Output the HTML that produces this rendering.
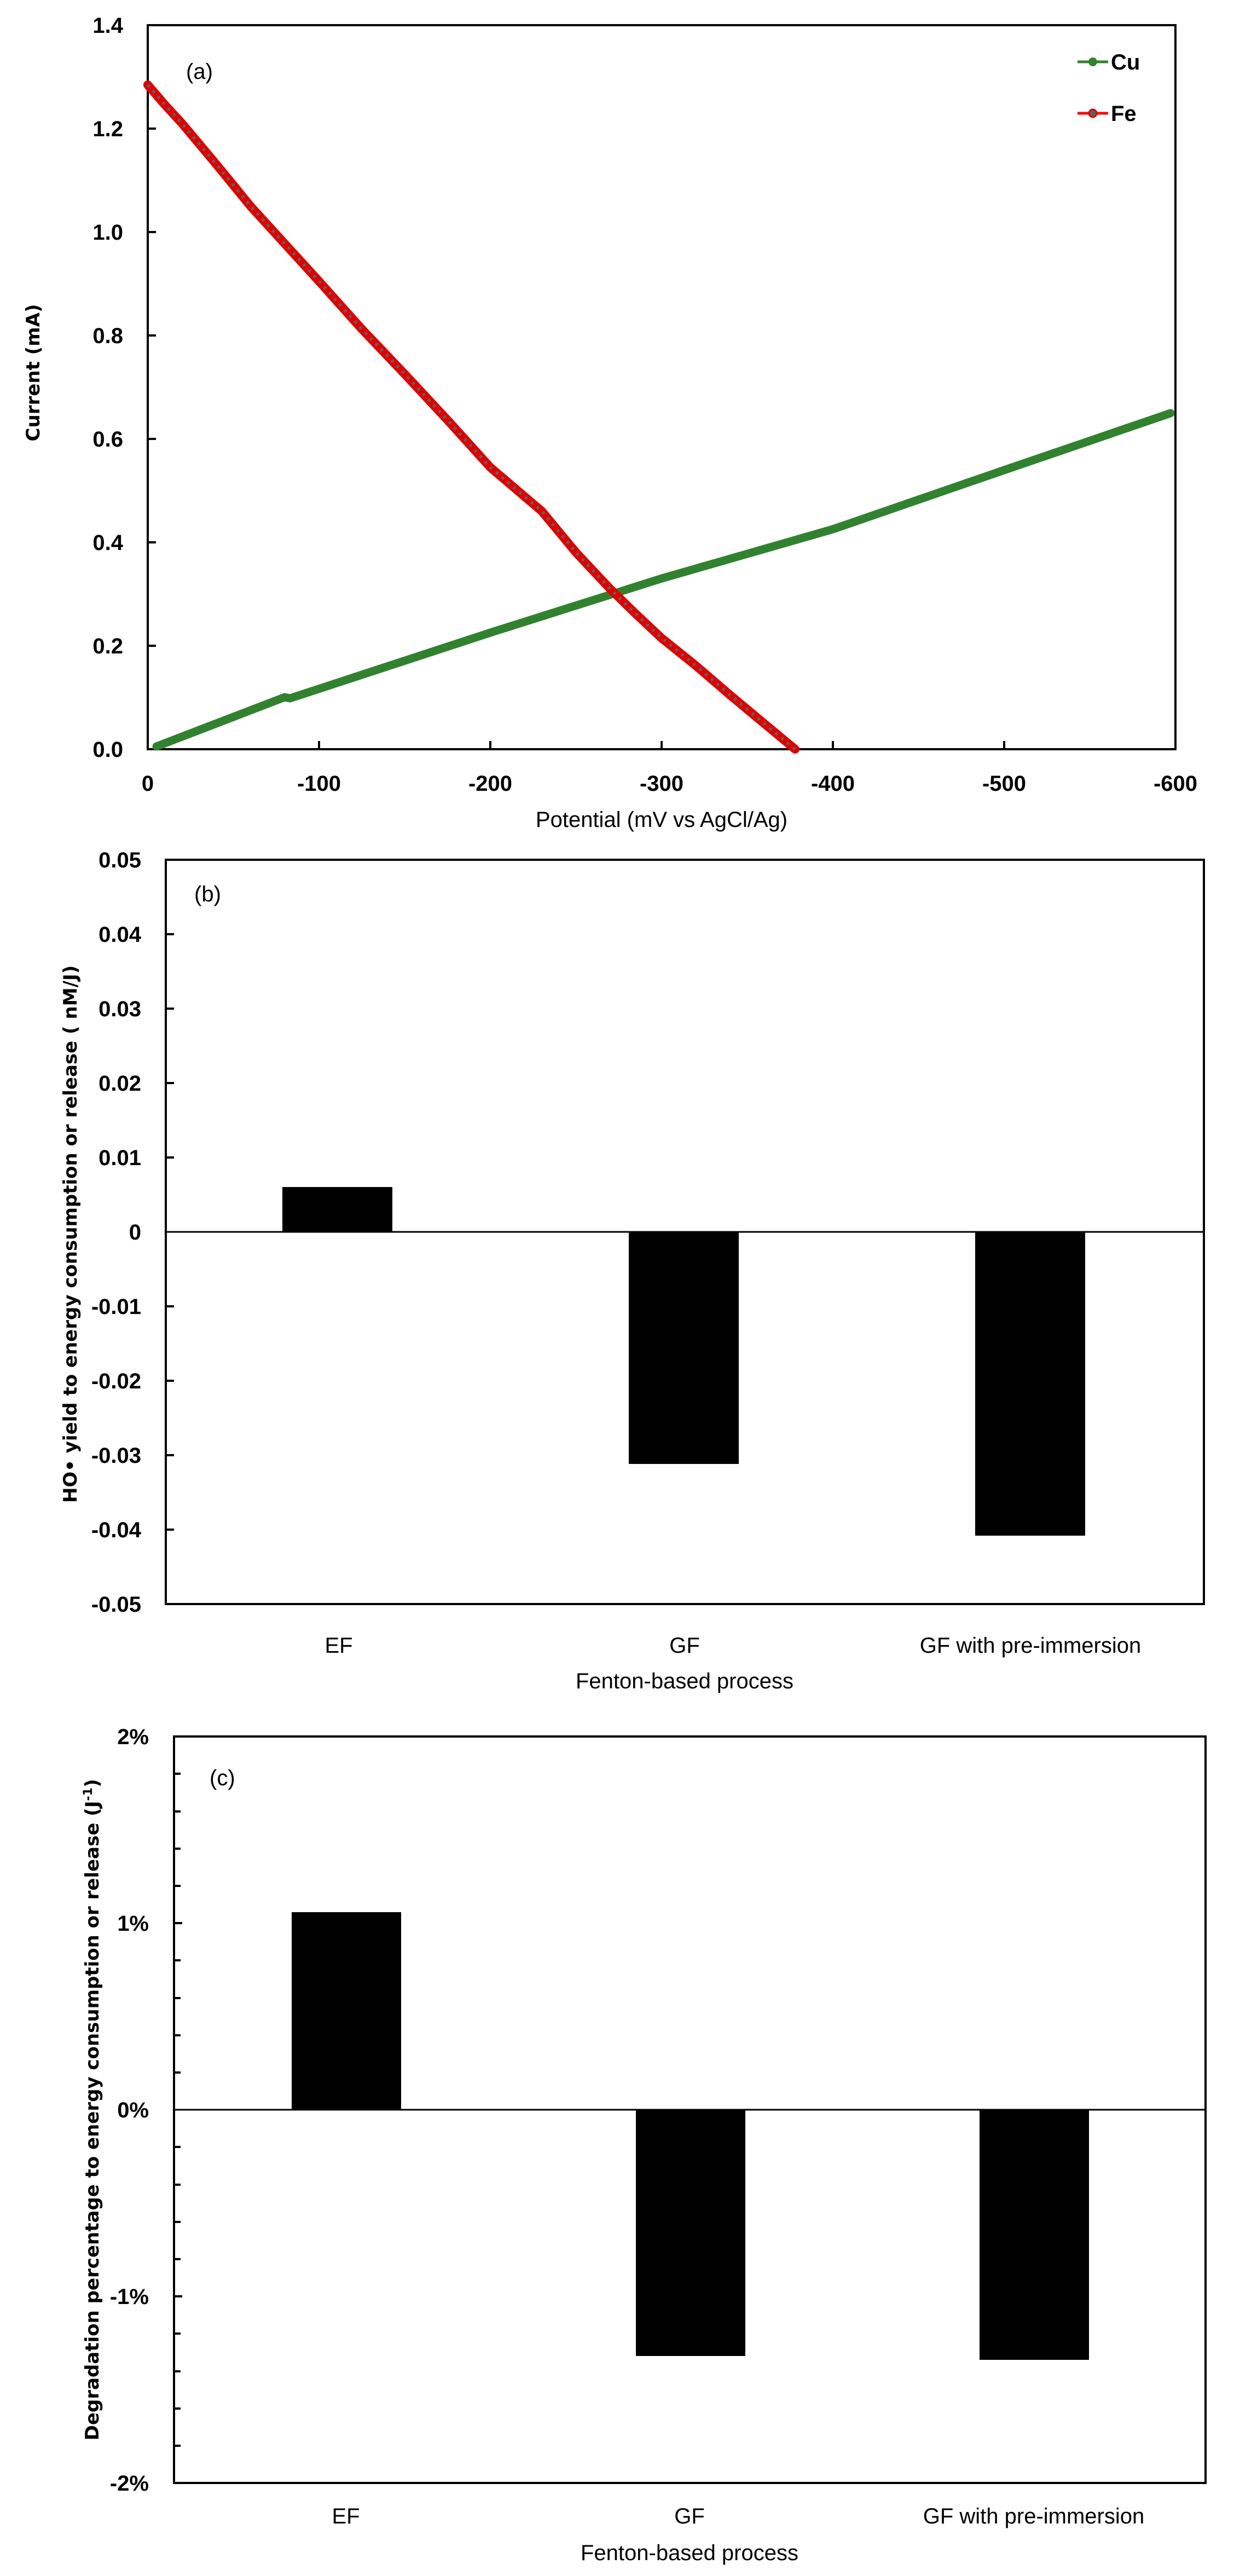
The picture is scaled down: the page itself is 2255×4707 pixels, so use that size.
<!DOCTYPE html>
<html><head><meta charset="utf-8"><style>
html,body{margin:0;padding:0;background:#fff}
svg{display:block}
text{font-family:"Liberation Sans Narrow","Liberation Sans",sans-serif;fill:#000}
.t{font-size:40px;font-weight:bold}
.ax{font-size:40px}
.yt{font-family:"DejaVu Sans","Liberation Sans",sans-serif;font-size:34px;font-weight:bold}
</style></head><body>
<svg width="2255" height="4707" viewBox="0 0 2255 4707" xmlns="http://www.w3.org/2000/svg">
<rect width="2255" height="4707" fill="#fff"/>
<!-- Chart A -->
<g>
<rect x="270" y="46" width="1878" height="1323" fill="none" stroke="#000" stroke-width="4"/>
<g stroke="#000" stroke-width="4">
<line x1="270" y1="235" x2="285" y2="235"/><line x1="270" y1="424" x2="285" y2="424"/>
<line x1="270" y1="613" x2="285" y2="613"/><line x1="270" y1="802" x2="285" y2="802"/>
<line x1="270" y1="991" x2="285" y2="991"/><line x1="270" y1="1180" x2="285" y2="1180"/>
<line x1="583" y1="1369" x2="583" y2="1354"/><line x1="896" y1="1369" x2="896" y2="1354"/>
<line x1="1209" y1="1369" x2="1209" y2="1354"/><line x1="1522" y1="1369" x2="1522" y2="1354"/>
<line x1="1835" y1="1369" x2="1835" y2="1354"/>
</g>
<g class="t" text-anchor="end">
<text x="225" y="60">1.4</text><text x="225" y="249">1.2</text><text x="225" y="438">1.0</text>
<text x="225" y="627">0.8</text><text x="225" y="816">0.6</text><text x="225" y="1005">0.4</text>
<text x="225" y="1194">0.2</text><text x="225" y="1383">0.0</text>
</g>
<g class="t" text-anchor="middle">
<text x="270" y="1445">0</text><text x="583" y="1445">-100</text><text x="896" y="1445">-200</text>
<text x="1209" y="1445">-300</text><text x="1522" y="1445">-400</text><text x="1835" y="1445">-500</text>
<text x="2148" y="1445">-600</text>
</g>
<text class="ax" x="1209" y="1511" text-anchor="middle">Potential (mV vs AgCl/Ag)</text>
<text class="yt" transform="translate(72,681) rotate(-90)" text-anchor="middle">Current (mA)</text>
<text class="ax" x="340" y="144">(a)</text>
<polyline fill="none" stroke="#31822f" stroke-width="15" stroke-linecap="round" stroke-linejoin="round"
 points="286,1364 520,1274 530,1276 896,1156 1209,1057 1522,967 1835,859 2139,755"/>
<polyline fill="none" stroke="#e00000" stroke-width="16" stroke-linecap="round" stroke-linejoin="round"
 points="270,155 300,190 333,226 364,263 395,300 427,339 458,377 520,445 583,514 660,600 740,684 820,770 896,854 990,934 1053,1010 1115,1076 1160,1120 1209,1166 1270,1215 1334,1270 1400,1325 1453,1369"/>
<polyline fill="none" stroke="#606060" stroke-width="6" stroke-dasharray="5 9" stroke-linejoin="round"
 points="270,155 300,190 333,226 364,263 395,300 427,339 458,377 520,445 583,514 660,600 740,684 820,770 896,854 990,934 1053,1010 1115,1076 1160,1120 1209,1166 1270,1215 1334,1270 1400,1325 1453,1369"/>
<line x1="1969" y1="113" x2="2025" y2="113" stroke="#31822f" stroke-width="5"/>
<circle cx="1997" cy="113" r="8" fill="#31822f"/>
<text class="t" x="2030" y="127">Cu</text>
<line x1="1969" y1="207" x2="2025" y2="207" stroke="#f00" stroke-width="5"/>
<circle cx="1997" cy="207" r="7" fill="#606060" stroke="#e00000" stroke-width="3"/>
<text class="t" x="2030" y="221">Fe</text>
</g>
<!-- Chart B -->
<g>
<rect x="303" y="1571" width="1897" height="1360" fill="none" stroke="#000" stroke-width="4"/>
<g stroke="#000" stroke-width="4">
<line x1="303" y1="1707" x2="318" y2="1707"/><line x1="303" y1="1843" x2="318" y2="1843"/>
<line x1="303" y1="1979" x2="318" y2="1979"/><line x1="303" y1="2115" x2="318" y2="2115"/>
<line x1="303" y1="2387" x2="318" y2="2387"/><line x1="303" y1="2523" x2="318" y2="2523"/>
<line x1="303" y1="2659" x2="318" y2="2659"/><line x1="303" y1="2795" x2="318" y2="2795"/>
</g>
<rect x="516" y="2169" width="201" height="82" fill="#000"/>
<rect x="1149" y="2251" width="201" height="424" fill="#000"/>
<rect x="1782" y="2251" width="201" height="555" fill="#000"/>
<line x1="303" y1="2251" x2="2200" y2="2251" stroke="#000" stroke-width="3"/>
<g class="t" text-anchor="end">
<text x="258" y="1585">0.05</text><text x="258" y="1721">0.04</text><text x="258" y="1857">0.03</text>
<text x="258" y="1993">0.02</text><text x="258" y="2129">0.01</text><text x="258" y="2265">0</text>
<text x="258" y="2401">-0.01</text><text x="258" y="2537">-0.02</text><text x="258" y="2673">-0.03</text>
<text x="258" y="2809">-0.04</text><text x="258" y="2945">-0.05</text>
</g>
<g class="ax" text-anchor="middle">
<text x="619" y="3020">EF</text><text x="1251" y="3020">GF</text><text x="1883" y="3020">GF with pre-immersion</text>
<text x="1251" y="3085">Fenton-based process</text>
</g>
<text class="yt" transform="translate(140,2255) rotate(-90)" text-anchor="middle">HO• yield to energy consumption or release ( nM/J)</text>
<text class="ax" x="355" y="1647">(b)</text>
</g>
<!-- Chart C -->
<g>
<rect x="318" y="3173" width="1885" height="1364" fill="none" stroke="#000" stroke-width="4"/>
<g stroke="#000" stroke-width="4">
<line x1="318" y1="3241" x2="330" y2="3241"/><line x1="318" y1="3310" x2="330" y2="3310"/>
<line x1="318" y1="3378" x2="330" y2="3378"/><line x1="318" y1="3446" x2="330" y2="3446"/>
<line x1="318" y1="3514" x2="333" y2="3514"/>
<line x1="318" y1="3582" x2="330" y2="3582"/><line x1="318" y1="3651" x2="330" y2="3651"/>
<line x1="318" y1="3719" x2="330" y2="3719"/><line x1="318" y1="3787" x2="330" y2="3787"/>
<line x1="318" y1="3923" x2="330" y2="3923"/><line x1="318" y1="3992" x2="330" y2="3992"/>
<line x1="318" y1="4060" x2="330" y2="4060"/><line x1="318" y1="4128" x2="330" y2="4128"/>
<line x1="318" y1="4196" x2="333" y2="4196"/>
<line x1="318" y1="4264" x2="330" y2="4264"/><line x1="318" y1="4333" x2="330" y2="4333"/>
<line x1="318" y1="4401" x2="330" y2="4401"/><line x1="318" y1="4469" x2="330" y2="4469"/>
</g>
<rect x="533" y="3494" width="200" height="361" fill="#000"/>
<rect x="1162" y="3855" width="200" height="450" fill="#000"/>
<rect x="1790" y="3855" width="200" height="457" fill="#000"/>
<line x1="318" y1="3855" x2="2203" y2="3855" stroke="#000" stroke-width="3"/>
<g class="t" text-anchor="end">
<text x="272" y="3187">2%</text><text x="272" y="3528">1%</text><text x="272" y="3869">0%</text>
<text x="272" y="4210">-1%</text><text x="272" y="4551">-2%</text>
</g>
<g class="ax" text-anchor="middle">
<text x="632" y="4611">EF</text><text x="1260" y="4611">GF</text><text x="1889" y="4611">GF with pre-immersion</text>
<text x="1260" y="4678">Fenton-based process</text>
</g>
<text class="yt" transform="translate(180,3855) rotate(-90)" text-anchor="middle">Degradation percentage to energy consumption or release (J<tspan dy="-12" font-size="22">-1</tspan><tspan dy="12">)</tspan></text>
<text class="ax" x="383" y="3262">(c)</text>
</g>
</svg>
</body></html>
